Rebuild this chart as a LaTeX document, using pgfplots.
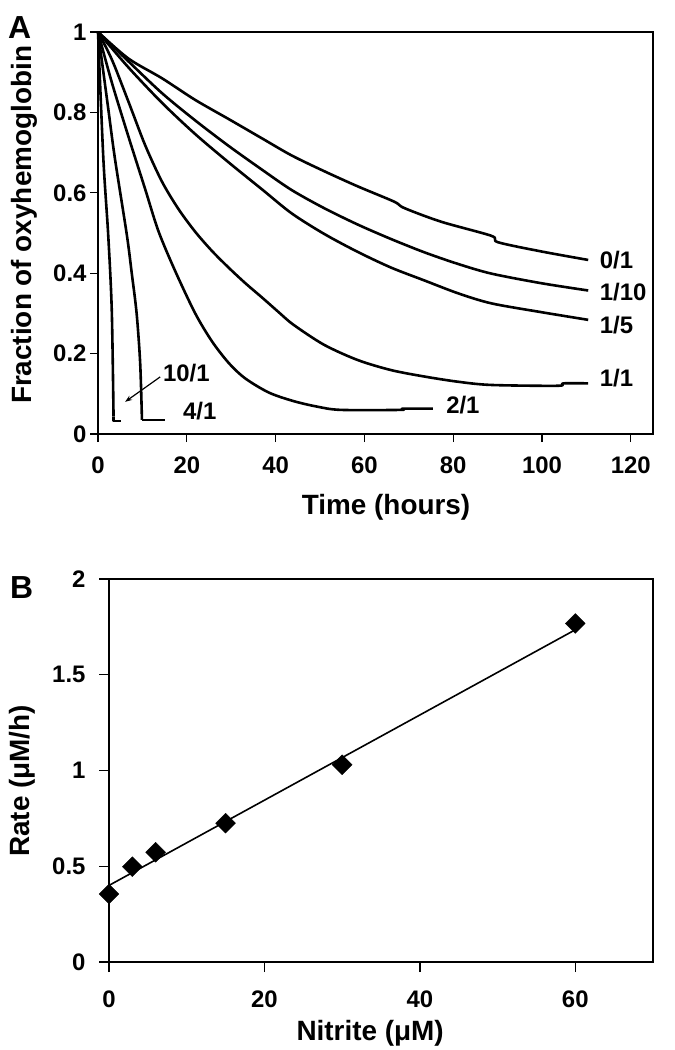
\documentclass[border=0pt]{standalone}
\usepackage{fontspec}
\setmainfont{Liberation Sans}
\usepackage{pgfplots}
\pgfplotsset{compat=1.18}
\usetikzlibrary{arrows.meta}

\pgfplotsset{
  panel/.style={
    scale only axis,
    axis line style={line width=1.3bp},
    tick style={line width=1.3bp, black},
    tick align=outside,
    xtick pos=left, ytick pos=left,
    /pgf/number format/assume math mode=true,
    ticklabel style={font=\bfseries\fontsize{24}{24}\selectfont},
    label style={font=\bfseries\fontsize{28}{28}\selectfont},
    clip=false,
  },
  curve/.style={black, line width=2.6bp, line join=round, no marks, smooth},
  foot/.style={black, line width=2.6bp, line join=round, no marks},
}
\newcommand{\lab}{\bfseries\fontsize{24}{24}\selectfont}

\begin{document}
\begin{tikzpicture}[x=1bp,y=1bp]
\path[use as bounding box] (0,0) rectangle (675,-1050);

% panel A
\begin{axis}[panel,
  at={(98bp,-32bp)}, anchor=north west,
  width=555bp, height=402bp,
  xmin=0, xmax=125, ymin=0, ymax=1,
  xtick={0,20,...,120}, ytick={0,0.2,...,1},
  major tick length=8bp,
  xticklabel style={yshift=-11bp},
  xlabel={Time (hours)},
  ylabel={Fraction of oxyhemoglobin},
  xlabel style={at={(axis description cs:0.519,-0.199)}, anchor=base},
  ylabel style={at={(axis description cs:-0.133,0.52)}, anchor=center},
]
% 0/1
\addplot[curve] coordinates {
 (0,1.0)(6.85,0.934)(14.4,0.885)(21.9,0.831)(29.5,0.783)(37.0,0.735)
 (43.6,0.693)(50.9,0.654)(58.5,0.616)(66.7,0.578)(69.0,0.562)(77.3,0.528)
 (88.6,0.493)(90.1,0.477)(99.9,0.454)(110.4,0.433)};
% 1/10
\addplot[curve] coordinates {
 (0,1.0)(6.85,0.927)(14.4,0.848)(21.9,0.780)(29.5,0.716)(37.0,0.657)
 (43.6,0.607)(50.9,0.562)(58.5,0.521)(66.0,0.485)(73.5,0.452)(81.1,0.423)
 (88.6,0.399)(99.9,0.375)(110.4,0.357)};
% 1/5
\addplot[curve] coordinates {
 (0,1.0)(6.85,0.912)(14.4,0.824)(21.9,0.746)(29.5,0.675)(37.0,0.608)
 (43.6,0.549)(50.9,0.498)(58.5,0.453)(66.0,0.414)(73.5,0.382)(81.1,0.350)
 (88.6,0.325)(99.9,0.303)(110.4,0.284)};
% 1/1
\addplot[curve] coordinates {
 (0,1.0)(3.1,0.932)(6.85,0.827)(10.6,0.719)(14.4,0.628)(18.1,0.560)
 (21.9,0.503)(25.7,0.455)(29.5,0.413)(33.2,0.375)(37.0,0.339)(40.7,0.303)
 (44.0,0.272)(50.9,0.222)(58.5,0.184)(66.0,0.159)(73.5,0.143)(81.1,0.130)
 (88.6,0.122)(103.6,0.120)(104.8,0.126)(110.4,0.126)};
% 2/1
\addplot[curve] coordinates {
 (0,1.0)(3.1,0.875)(6.85,0.740)(10.6,0.610)(13.6,0.505)(17.4,0.405)
 (21.9,0.300)(25.7,0.230)(29.5,0.176)(33.2,0.138)(38.5,0.103)(44.0,0.082)
 (49.4,0.068)(54.7,0.060)(68.2,0.060)(68.6,0.063)(75.4,0.063)};
% 4/1
\addplot[curve] coordinates {
 (0,1.0)(2.3,0.810)(3.8,0.686)(6.5,0.495)(7.6,0.400)(8.7,0.300)
 (9.5,0.176)(9.9,0.035)};
\addplot[foot] coordinates {(9.9,0.035)(15.0,0.035)};
% 10/1
\addplot[curve] coordinates {
 (0,1.0)(1.2,0.686)(2.3,0.495)(3.1,0.308)(3.5,0.043)};
\addplot[foot] coordinates {(3.5,0.043)(3.5,0.032)(5.1,0.032)};

\draw[line width=1.2bp, -{Stealth[length=7bp,width=5bp]}]
  (axis cs:14.0,0.142) -- (axis cs:6.1,0.080);
\node[font=\lab, anchor=center] at (axis cs:19.9,0.151) {10/1};
\node[font=\lab, anchor=center] at (axis cs:22.9,0.056) {4/1};
\node[font=\lab, anchor=west, inner sep=0pt] at (axis cs:113,0.433) {0/1};
\node[font=\lab, anchor=west, inner sep=0pt] at (axis cs:113,0.354) {1/10};
\node[font=\lab, anchor=west, inner sep=0pt] at (axis cs:113,0.271) {1/5};
\node[font=\lab, anchor=west, inner sep=0pt] at (axis cs:113,0.139) {1/1};
\node[font=\lab, anchor=west, inner sep=0pt] at (axis cs:78.4,0.072) {2/1};
\end{axis}

% panel B
\begin{axis}[panel,
  at={(109bp,-579bp)}, anchor=north west,
  width=544bp, height=383bp,
  xmin=0, xmax=70, ymin=0, ymax=2,
  xtick={0,20,40,60}, ytick={0,0.5,...,2},
  major tick length=10bp,
  xticklabel style={yshift=-15bp},
  yticklabel style={xshift=-10bp},
  xlabel={Nitrite (μM)},
  ylabel={Rate (μM/h)},
  xlabel style={at={(axis description cs:0.48,-0.206)}, anchor=base},
  ylabel style={at={(axis description cs:-0.160,0.473)}, anchor=center},
]
\addplot[black, line width=1.6bp, no marks] coordinates {(0,0.40)(60,1.735)};
\addplot[only marks, mark=square*, mark size=7bp, black,
  mark options={rotate=45, fill=black}] coordinates {
  (0,0.355)(3,0.498)(6,0.573)(15,0.725)(30,1.03)(60,1.768)};
\end{axis}

\node[font=\bfseries\fontsize{32}{32}\selectfont, anchor=north west, inner sep=0pt] at (8,-16) {A};
\node[font=\bfseries\fontsize{32}{32}\selectfont, anchor=north west, inner sep=0pt] at (10,-576) {B};
\end{tikzpicture}
\end{document}
